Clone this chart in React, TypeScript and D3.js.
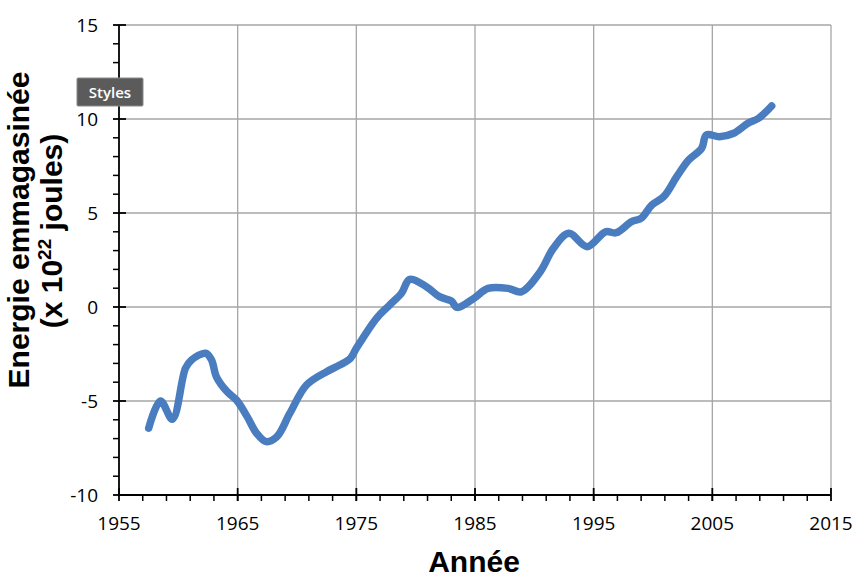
import React from "react";
import * as d3 from "d3";

const years = [1957.5, 1958.5, 1959.5, 1960.6, 1961.1, 1962.3, 1962.8, 1963.2, 1964.1, 1964.9, 1965.8, 1966.6, 1967.4, 1968.3, 1969.4, 1970.8, 1972.5, 1973.6, 1974.5, 1975.0, 1976.7, 1977.8, 1978.8, 1979.5, 1980.9, 1982.0, 1983.0, 1983.5, 1984.9, 1986.1, 1987.8, 1988.9, 1990.5, 1991.6, 1992.9, 1994.45, 1996.0, 1996.9, 1998.2, 1999.0, 1999.9, 2000.9, 2002.0, 2003.0, 2004.1, 2004.5, 2005.6, 2006.8, 2008.0, 2008.9, 2010.0];
const energy = [-6.45, -5.0, -5.97, -3.26, -2.82, -2.46, -2.82, -3.7, -4.5, -4.95, -5.83, -6.72, -7.16, -6.9, -5.65, -4.15, -3.44, -3.09, -2.73, -2.2, -0.6, 0.1, 0.73, 1.47, 1.08, 0.55, 0.32, -0.02, 0.46, 0.99, 0.99, 0.81, 1.88, 3.12, 3.92, 3.21, 4.0, 3.95, 4.54, 4.72, 5.43, 5.87, 6.93, 7.82, 8.44, 9.15, 9.06, 9.24, 9.77, 10.04, 10.69];
const xTicks = [1955, 1965, 1975, 1985, 1995, 2005, 2015];
const yTicks = [-10, -5, 0, 5, 10, 15];

export default function App() {
  const W = 862, H = 582;
  const x = d3.scaleLinear().domain([1955, 2015]).range([119, 831]);
  const y = d3.scaleLinear().domain([-10, 15]).range([495, 25]);
  const pts = years.map((yr, i) => [yr, energy[i]] as [number, number]);
  const line = d3.line<[number, number]>().x(d => x(d[0])).y(d => y(d[1])).curve(d3.curveCatmullRom.alpha(0.5));
  const xMinor = d3.range(1957, 2015, 2);
  const yMinor = d3.range(-10, 15, 1).filter(v => v % 5 !== 0);
  const tickFont = "'Open Sans', sans-serif";
  const boldFont = "'Liberation Sans', Arial, sans-serif";
  return (
    <svg width={W} height={H} style={{ position: "absolute", left: 0, top: 0 }}>
      <rect width={W} height={H} fill="#fff" />
      {xTicks.slice(1).map(t => (
        <line key={"gx" + t} x1={x(t)} x2={x(t)} y1={y(15)} y2={y(-10)} stroke="#a6a6a6" strokeWidth={1.3} />
      ))}
      {yTicks.slice(1).map(t => (
        <line key={"gy" + t} x1={x(1955)} x2={x(2015)} y1={y(t)} y2={y(t)} stroke="#a6a6a6" strokeWidth={1.3} />
      ))}
      <path d={line(pts) || ""} fill="none" stroke="#4a7dbf" strokeWidth={7.5} strokeLinecap="round" strokeLinejoin="round" />
      <line x1={x(1955)} x2={x(1955)} y1={y(15)} y2={y(-10)} stroke="#000" strokeWidth={1.8} />
      <line x1={x(1955)} x2={x(2015)} y1={y(-10)} y2={y(-10)} stroke="#000" strokeWidth={1.8} />
      {yTicks.map(t => (
        <g key={"yt" + t}>
          <line x1={x(1955) - 6} x2={x(1955) + 7} y1={y(t)} y2={y(t)} stroke="#000" strokeWidth={1.8} />
          <text x={98} y={y(t) + 6.5} textAnchor="end" fontSize={19} fontFamily={tickFont} fill="#000">{t}</text>
        </g>
      ))}
      {yMinor.map(t => (
        <line key={"ym" + t} x1={x(1955) - 6} x2={x(1955)} y1={y(t)} y2={y(t)} stroke="#000" strokeWidth={1.5} />
      ))}
      {xTicks.map(t => (
        <g key={"xt" + t}>
          <line x1={x(t)} x2={x(t)} y1={y(-10) - 7} y2={y(-10) + 6} stroke="#000" strokeWidth={1.8} />
          <text x={x(t)} y={530} textAnchor="middle" fontSize={19} fontFamily={tickFont} fill="#000">{t}</text>
        </g>
      ))}
      {xMinor.map(t => (
        <line key={"xm" + t} x1={x(t)} x2={x(t)} y1={y(-10)} y2={y(-10) + 6} stroke="#000" strokeWidth={1.5} />
      ))}
      <text x={474} y={572} textAnchor="middle" fontSize={30} fontWeight="bold" fontFamily={boldFont} fill="#000">Année</text>
      <g transform="translate(29,230) rotate(-90)">
        <text x={0} y={0} textAnchor="middle" fontSize={30} fontWeight="bold" fontFamily={boldFont} fill="#000">Energie emmagasinée</text>
      </g>
      <g transform="translate(62,231) rotate(-90)">
        <text x={0} y={0} textAnchor="middle" fontSize={30} fontWeight="bold" fontFamily={boldFont} fill="#000">
          (x 10<tspan fontSize={19} dy={-11}>22</tspan><tspan dy={11}> joules)</tspan>
        </text>
      </g>
      <rect x={77} y={78} width={66} height={28} fill="#5b5b5b" stroke="#8a8a8a" strokeWidth={1} rx={1} />
      <text x={110} y={97.5} textAnchor="middle" fontSize={15} fontWeight={600} fontFamily="'Open Sans', sans-serif" fill="#fff">Styles</text>
    </svg>
  );
}
